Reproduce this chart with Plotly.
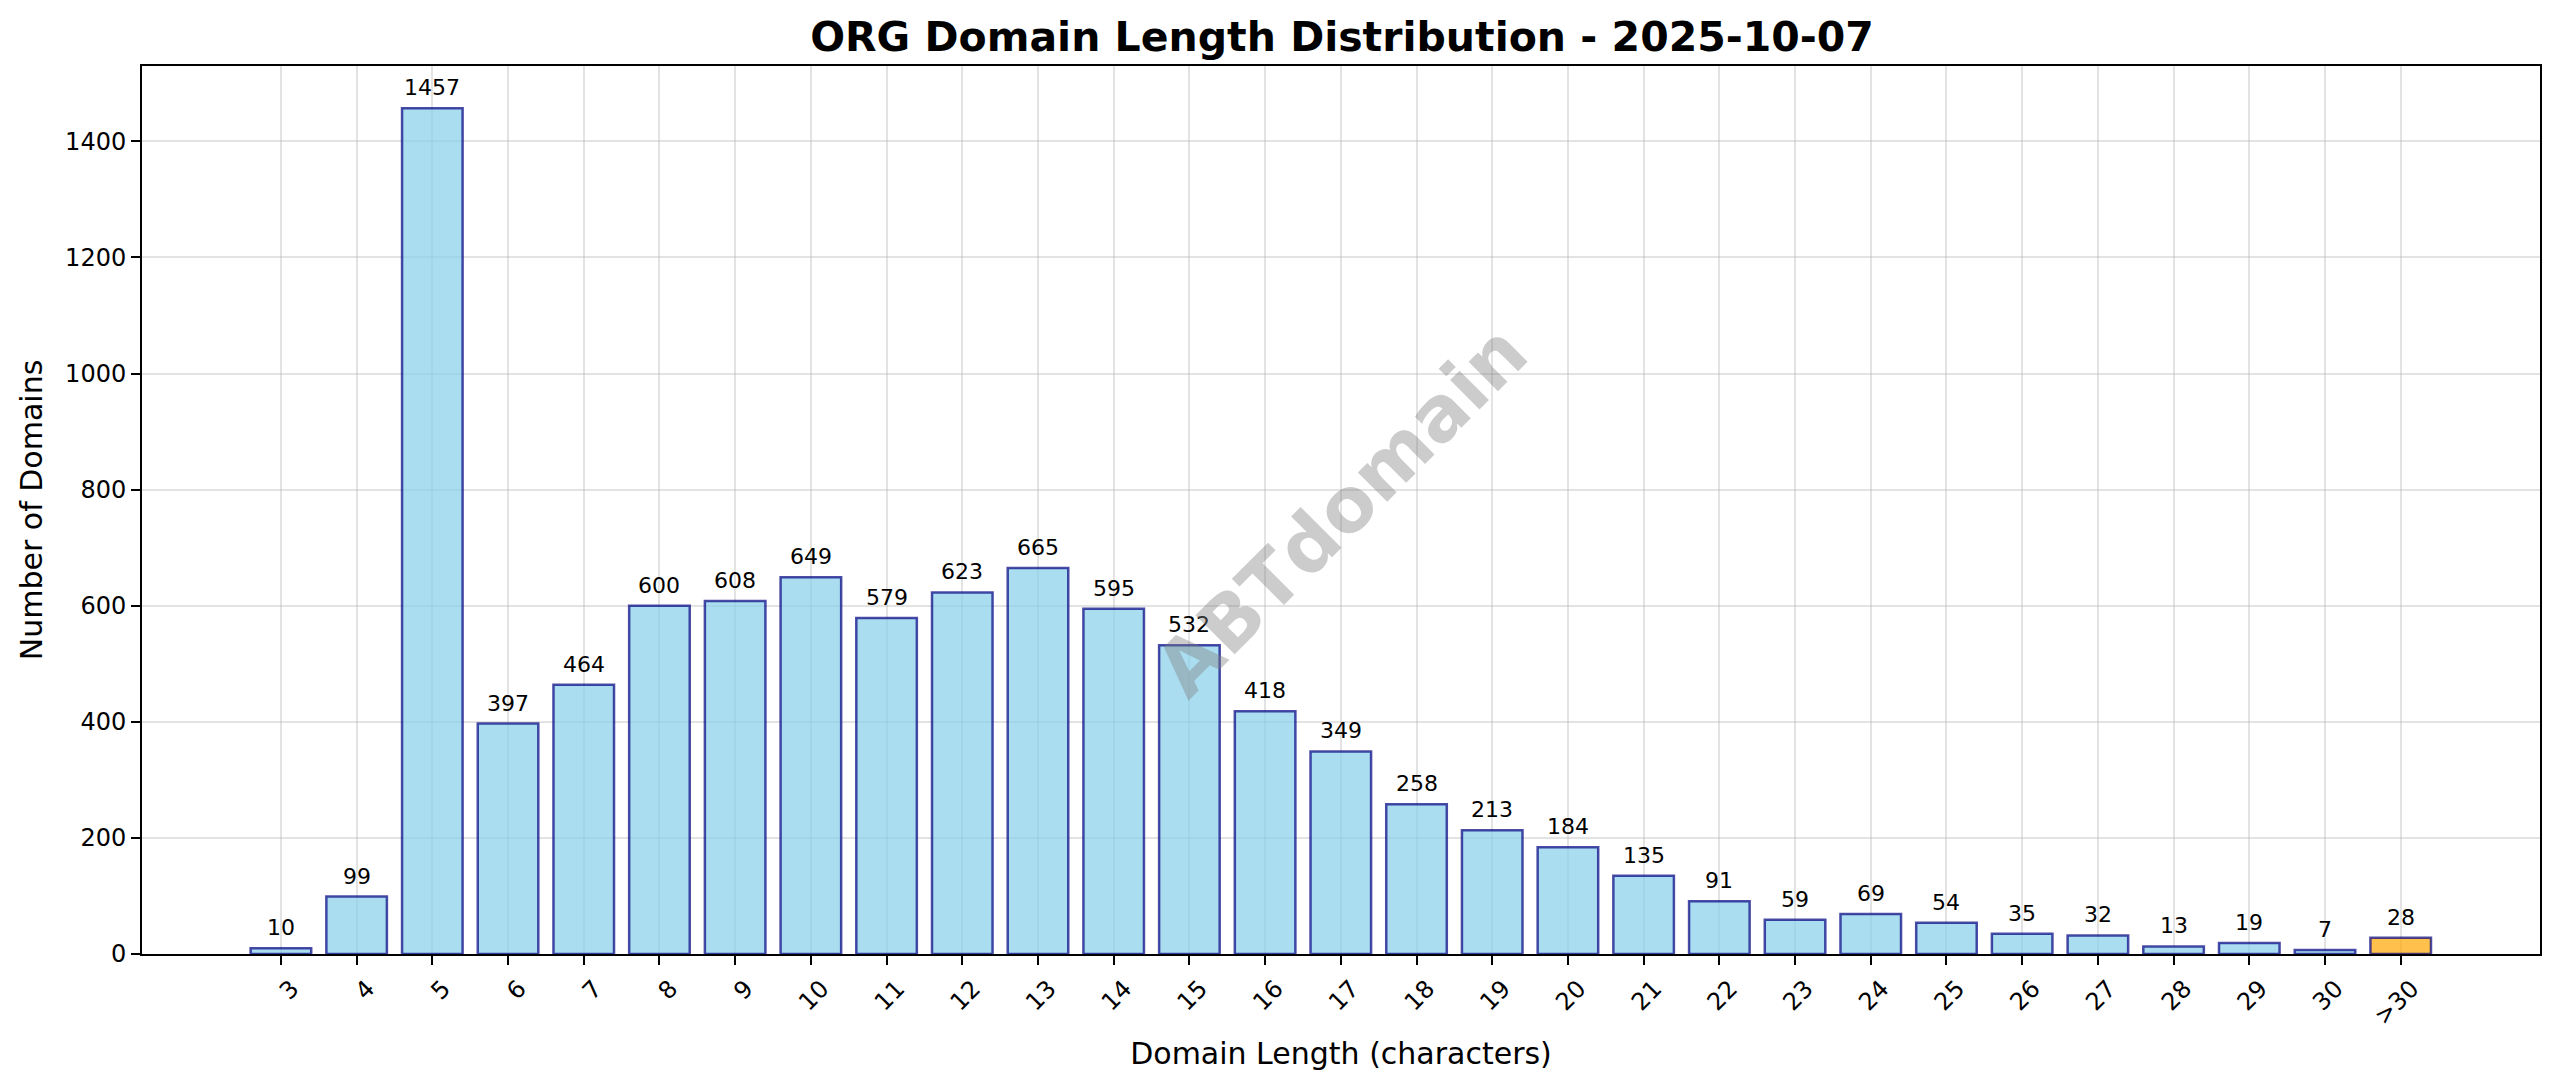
import plotly.graph_objects as go

categories = [str(i) for i in range(3, 31)] + [">30"]
counts = [10, 99, 1457, 397, 464, 600, 608, 649, 579, 623, 665, 595, 532, 418,
          349, 258, 213, 184, 135, 91, 59, 69, 54, 35, 32, 13, 19, 7, 28]
y_ticks = [0, 200, 400, 600, 800, 1000, 1200, 1400]

title_text = "ORG Domain Length Distribution - 2025-10-07"
x_title = "Domain Length (characters)"
y_title = "Number of Domains"
watermark = "ABTdomain"

FONT = "DejaVu Sans"
sky = "rgba(135,206,235,0.7)"
orange = "rgba(255,165,0,0.7)"
edge = "rgba(0,0,128,0.7)"

colors = [orange if c == ">30" else sky for c in categories]
xidx = list(range(len(categories)))

W, H = 2544, 1071

fig = go.Figure()
fig.add_trace(go.Bar(
    x=xidx, y=counts, width=0.8,
    marker=dict(color=colors, line=dict(color=edge, width=2.5)),
    hoverinfo="x+y",
))

annotations = []
for i, v in zip(xidx, counts):
    annotations.append(dict(
        x=i, y=v, xref="x", yref="y", text=str(v), showarrow=False,
        yanchor="bottom", xanchor="center", yshift=6,
        font=dict(family=FONT, size=22, color="black"),
    ))
annotations.append(dict(
    x=0.5, y=0.5, xref="paper", yref="paper", text="<b>%s</b>" % watermark,
    showarrow=False, textangle=-45,
    font=dict(family=FONT, size=76, color="rgba(128,128,128,0.4)"),
))

ymax = max(counts) * 1.05

fig.update_layout(
    width=W, height=H,
    margin=dict(l=134, r=10, t=58, b=125),
    paper_bgcolor="white", plot_bgcolor="white",
    showlegend=False,
    title=dict(text="<b>%s</b>" % title_text, x=(134 + 2534) / 2 / W, xanchor="center",
               y=1 - 43 / H, yanchor="bottom", yref="container",
               font=dict(family=FONT, size=41, color="black")),
    annotations=annotations,
    font=dict(family=FONT, color="black"),
    bargap=0.2,
)

fig.update_xaxes(
    range=[-1.835, len(categories) - 1 + 1.84],
    tickmode="array", tickvals=xidx, ticktext=categories,
    tickangle=-45, tickfont=dict(family=FONT, size=24, color="black"),
    ticklabelshift=11,
    ticks="outside", ticklen=9, tickwidth=2, tickcolor="black",
    showline=True, linecolor="black", linewidth=2, mirror=True,
    showgrid=True, gridcolor="rgba(176,176,176,0.35)", gridwidth=2,
    zeroline=False,
    title=dict(text=x_title, font=dict(family=FONT, size=30, color="black"), standoff=14),
)
fig.update_yaxes(
    range=[0, ymax],
    tickmode="array", tickvals=y_ticks, ticktext=[str(t) for t in y_ticks],
    tickfont=dict(family=FONT, size=24, color="black"),
    ticks="outside", ticklen=9, tickwidth=2, tickcolor="black",
    showline=True, linecolor="black", linewidth=2, mirror=True,
    showgrid=True, gridcolor="rgba(176,176,176,0.35)", gridwidth=2,
    zeroline=False,
    title=dict(text=y_title, font=dict(family=FONT, size=30, color="black"), standoff=14),
)

fig.write_html("out.html")
